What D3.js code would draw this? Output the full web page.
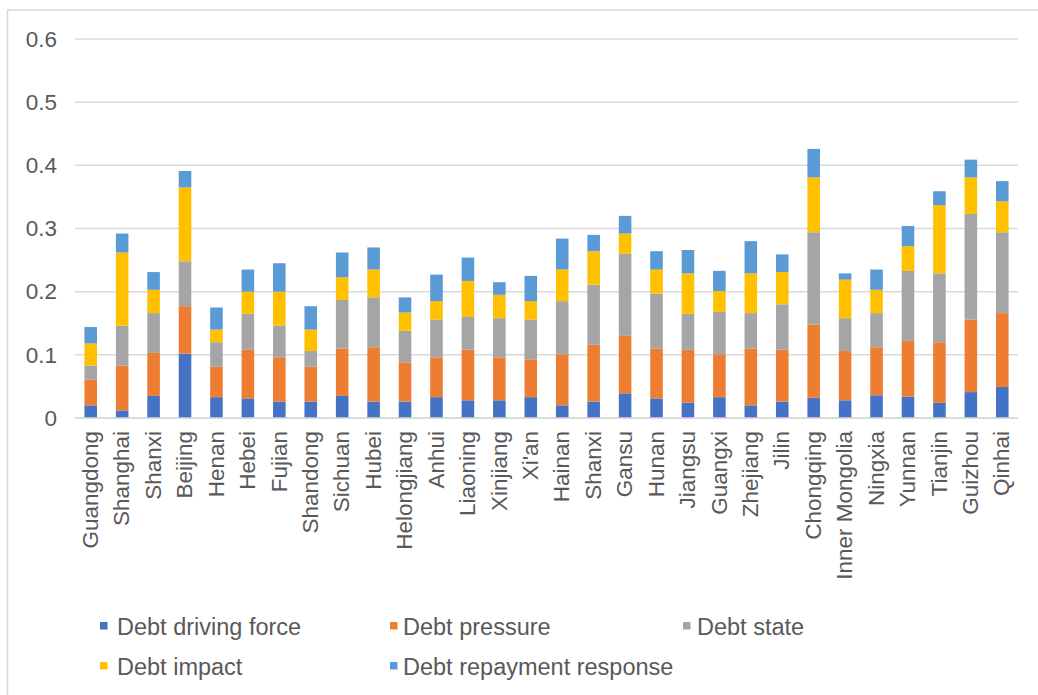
<!DOCTYPE html>
<html>
<head>
<meta charset="utf-8">
<script src="https://cdn.jsdelivr.net/npm/d3@7"></script>
<style>
  html, body { margin: 0; padding: 0; background: #ffffff; }
  svg { display: block; }
</style>
</head>
<body>
<svg id="chart" width="1038" height="695"></svg>
<script>
const categories = ["Guangdong","Shanghai","Shanxi","Beijing","Henan","Hebei","Fujian","Shandong","Sichuan","Hubei","Helongjiang","Anhui","Liaoning","Xinjiang","Xi'an","Hainan","Shanxi","Gansu","Hunan","Jiangsu","Guangxi","Zhejiang","Jilin","Chongqing","Inner Mongolia","Ningxia","Yunnan","Tianjin","Guizhou","Qinhai"];

const drivingForce = [0.020,0.012,0.035,0.102,0.033,0.031,0.026,0.026,0.035,0.026,0.026,0.033,0.028,0.028,0.033,0.020,0.026,0.039,0.031,0.024,0.033,0.020,0.026,0.032,0.028,0.036,0.034,0.024,0.041,0.049];
const pressure     = [0.041,0.071,0.068,0.075,0.048,0.077,0.070,0.055,0.075,0.086,0.062,0.063,0.080,0.068,0.060,0.081,0.090,0.091,0.079,0.084,0.068,0.090,0.082,0.116,0.078,0.076,0.088,0.096,0.115,0.117];
const state        = [0.022,0.063,0.063,0.071,0.039,0.057,0.050,0.025,0.077,0.079,0.050,0.060,0.052,0.062,0.063,0.084,0.095,0.130,0.087,0.057,0.067,0.056,0.072,0.146,0.052,0.054,0.111,0.109,0.167,0.128];
const impact       = [0.035,0.116,0.037,0.117,0.020,0.035,0.054,0.034,0.036,0.044,0.029,0.029,0.057,0.037,0.029,0.050,0.053,0.032,0.038,0.064,0.033,0.063,0.051,0.087,0.061,0.037,0.039,0.108,0.058,0.049];
const repayment    = [0.026,0.030,0.028,0.026,0.035,0.035,0.045,0.037,0.039,0.035,0.024,0.042,0.037,0.020,0.040,0.049,0.026,0.028,0.029,0.037,0.032,0.051,0.028,0.045,0.010,0.032,0.032,0.022,0.028,0.032];

const seriesNames = ["Debt driving force","Debt pressure","Debt state","Debt impact","Debt repayment response"];
const seriesValues = [drivingForce, pressure, state, impact, repayment];
const seriesColors = ["#4472C4","#ED7D31","#A5A5A5","#FFC000","#5B9BD5"];
const yTicks = [0, 0.1, 0.2, 0.3, 0.4, 0.5, 0.6];

(function () {
const svg = d3.select("#chart");
const textColor = "#595959";
const gridColor = "#D9D9D9";

// chart border
svg.append("rect")
  .attr("x", 7.5).attr("y", 10)
  .attr("width", 1200).attr("height", 900)
  .attr("fill", "none").attr("stroke", gridColor).attr("stroke-width", 1.5);

const plotLeft = 75, plotRight = 1018, plotTop = 39, plotBottom = 418;

const x = d3.scaleBand()
  .domain(d3.range(categories.length))
  .range([plotLeft, plotRight])
  .paddingInner(0.6)
  .paddingOuter(0.3);

const y = d3.scaleLinear().domain([0, 0.6]).range([plotBottom, plotTop]);

// gridlines
svg.append("g")
  .selectAll("line")
  .data(yTicks)
  .join("line")
  .attr("x1", plotLeft).attr("x2", plotRight)
  .attr("y1", d => y(d)).attr("y2", d => y(d))
  .attr("stroke", gridColor).attr("stroke-width", 1.5);

// y axis labels
const yAxis = d3.axisLeft(y).tickValues(yTicks)
  .tickFormat(d => d === 0 ? "0" : d3.format(".1f")(d)).tickSize(0).tickPadding(0);
const gy = svg.append("g").attr("transform", "translate(57,0)").call(yAxis);
gy.select(".domain").remove();
gy.selectAll("text")
  .attr("fill", textColor)
  .style("font-family", "'Liberation Sans', Arial, sans-serif")
  .style("font-size", "22.5px");

// stacked bars
const rows = categories.map((c, i) => {
  const r = { idx: i };
  seriesNames.forEach((s, k) => { r[s] = seriesValues[k][i]; });
  return r;
});
const stacked = d3.stack().keys(seriesNames)(rows);

svg.append("g")
  .selectAll("g")
  .data(stacked)
  .join("g")
  .attr("fill", (d, k) => seriesColors[k])
  .selectAll("rect")
  .data(d => d)
  .join("rect")
  .attr("x", d => x(d.data.idx))
  .attr("width", x.bandwidth())
  .attr("y", d => y(d[1]))
  .attr("height", d => y(d[0]) - y(d[1]));

// x axis
const xAxis = d3.axisBottom(x).tickFormat(i => categories[i]).tickSize(0).tickPadding(0);
const gx = svg.append("g").attr("transform", `translate(0,${plotBottom})`).call(xAxis);
gx.select(".domain").attr("stroke", gridColor).attr("stroke-width", 1.5)
  .attr("d", `M${plotLeft},0H${plotRight}`);
gx.selectAll("text")
  .attr("fill", textColor)
  .style("font-family", "'Liberation Sans', Arial, sans-serif")
  .style("font-size", "22.5px")
  .attr("text-anchor", "end")
  .attr("transform", "translate(0,13) rotate(-90)")
  .attr("x", 0).attr("y", 0).attr("dy", "0.32em");

// legend
const legendPos = [
  { sx: 100, tx: 117, base: 635 },
  { sx: 390, tx: 403, base: 635 },
  { sx: 683, tx: 697, base: 635 },
  { sx: 100, tx: 117, base: 675 },
  { sx: 390, tx: 403, base: 675 }
];
const lg = svg.append("g");
seriesNames.forEach((name, k) => {
  const p = legendPos[k];
  lg.append("rect")
    .attr("x", p.sx).attr("y", p.base - 13)
    .attr("width", 7.5).attr("height", 7.5)
    .attr("fill", seriesColors[k]);
  lg.append("text")
    .attr("x", p.tx).attr("y", p.base)
    .attr("fill", textColor)
    .style("font-family", "'Liberation Sans', Arial, sans-serif")
    .style("font-size", "23.5px")
    .text(name);
});
})();
</script>
</body>
</html>
